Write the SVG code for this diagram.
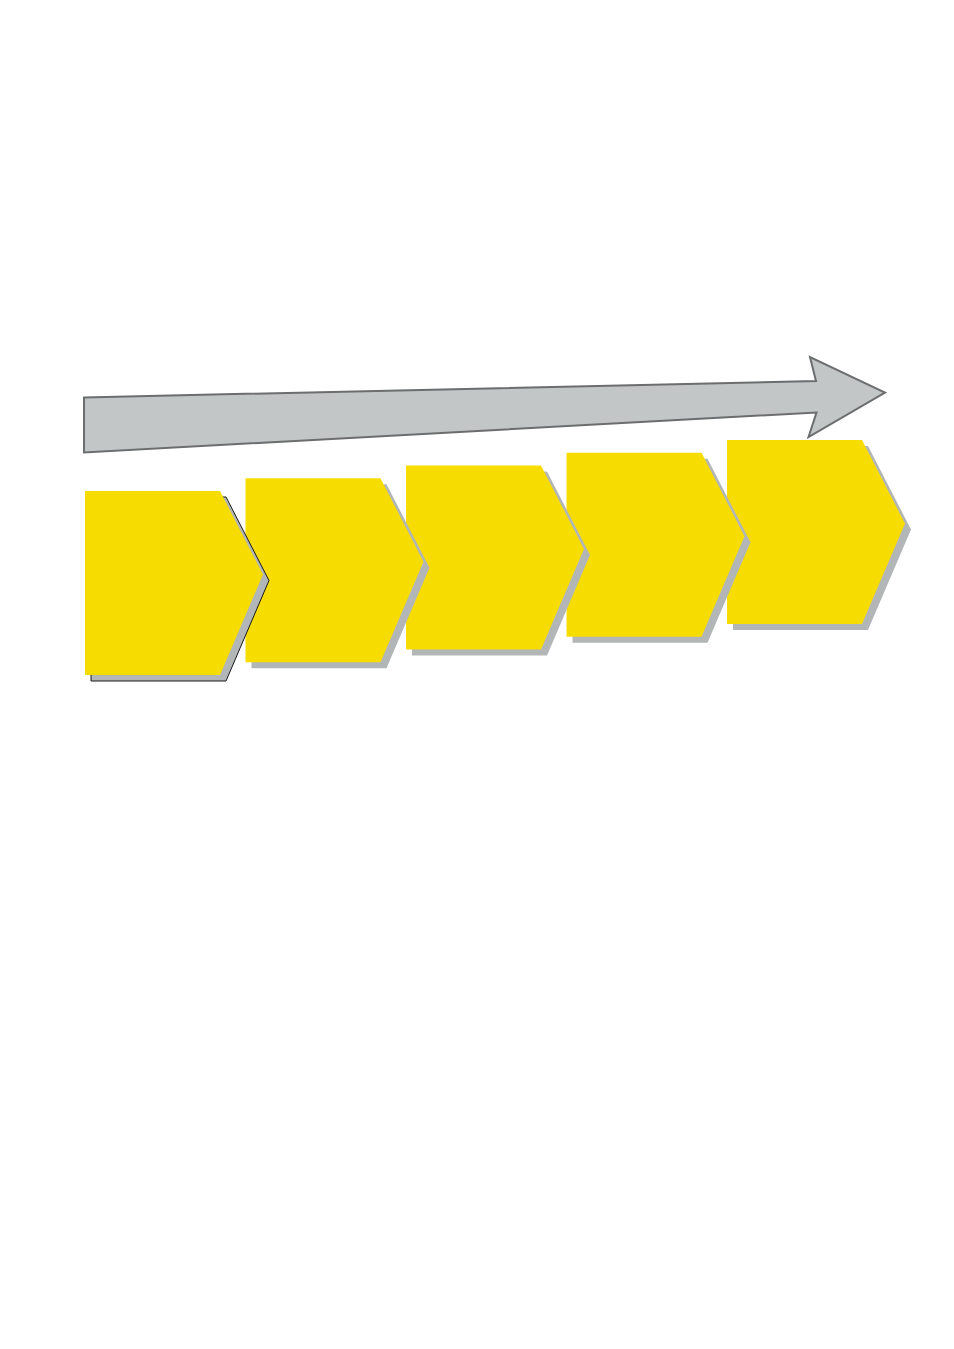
<svg xmlns="http://www.w3.org/2000/svg" width="954" height="1349" viewBox="0 0 954 1349">
<defs>
<style>
.chev{fill:#f7dc00;}
.shadow{fill:#b3b6b6;}
.shadow1{fill:#b3b6b6;stroke:#1a1a1a;stroke-width:1;}
.arrow{fill:#c3c6c6;stroke:#6b6d6e;stroke-width:2;stroke-linejoin:miter;}
</style>
<path id="chevShape" d="M0,0 H135 L178,83.5 L135,184 H0 Z"/>
</defs>
<rect width="954" height="1349" fill="#ffffff"/>
<g id="connectors">
<path class="arrow" d="M84,397.5 L816,381 L810,357 L885,392.5 L808.5,437 L816.5,412.5 L84,452.5 Z"/>
</g>
<g id="step5">
<use href="#chevShape" class="shadow" x="733" y="446"/>
<use href="#chevShape" class="chev" x="727" y="440"/>
</g>
<g id="step4">
<use href="#chevShape" class="shadow" x="572.5" y="458.75"/>
<use href="#chevShape" class="chev" x="566.5" y="452.75"/>
</g>
<g id="step3">
<use href="#chevShape" class="shadow" x="412" y="471.5"/>
<use href="#chevShape" class="chev" x="406" y="465.5"/>
</g>
<g id="step2">
<use href="#chevShape" class="shadow" x="251.5" y="484.25"/>
<use href="#chevShape" class="chev" x="245.5" y="478.25"/>
</g>
<g id="step1">
<use href="#chevShape" class="shadow1" x="91" y="497"/>
<use href="#chevShape" class="chev" x="85" y="491"/>
</g>
</svg>
